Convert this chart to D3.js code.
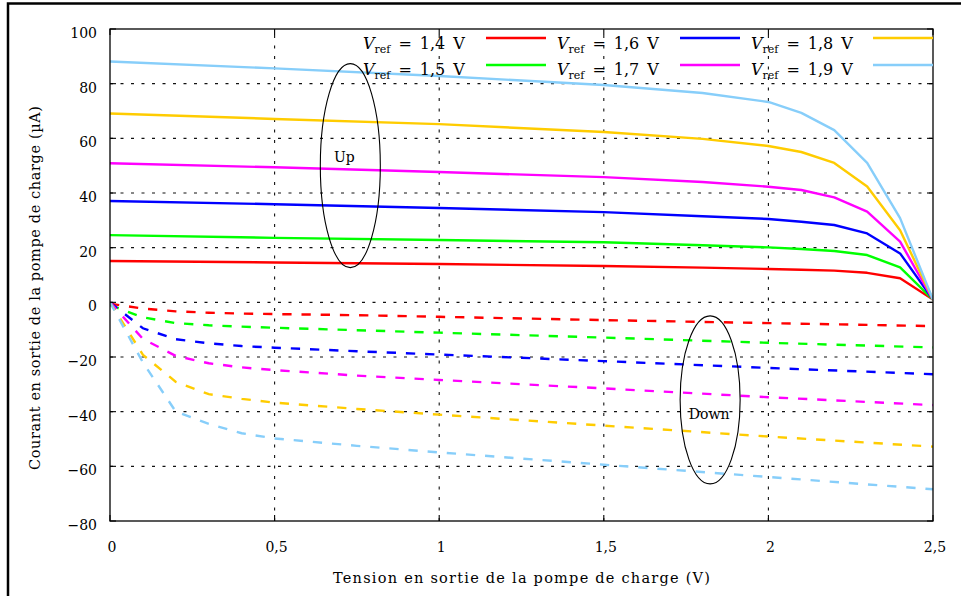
<!DOCTYPE html>
<html><head><meta charset="utf-8">
<script src="https://cdn.jsdelivr.net/npm/d3@7"></script>
<style>
body{margin:0;background:#fff}
svg{display:block}
text{font-family:"DejaVu Serif",serif;fill:#000}
</style>
</head><body>
<svg id="c" width="964" height="596"></svg>
<script>
// ---------- data ----------
const vrefLabels = ["1,4", "1,5", "1,6", "1,7", "1,8", "1,9"];
const seriesColors = ["#ff0000", "#00ff00", "#0000ff", "#ff00ff", "#ffcc00", "#87cefa"];

// "Up" current (solid lines)
const upX   = [0, 0.5, 1, 1.5, 1.8, 2, 2.1, 2.2, 2.3, 2.4, 2.5];
const up14  = [15.1, 14.6, 14.0, 13.3, 12.7, 12.2, 11.9, 11.6, 10.8, 8.8, 1.0];
const up15  = [24.6, 23.6, 22.8, 22.0, 20.9, 20.1, 19.5, 18.8, 17.3, 12.8, 1.0];
const up16  = [37.1, 35.9, 34.5, 33.0, 31.5, 30.5, 29.5, 28.3, 25.2, 17.9, 1.0];
const up17  = [50.9, 49.4, 47.7, 45.8, 44.0, 42.3, 41.1, 38.4, 33.2, 22.2, 1.0];
const up18  = [69.1, 67.1, 65.2, 62.3, 59.8, 57.2, 55.0, 51.0, 42.4, 26.4, 1.0];
const up19  = [88.1, 85.6, 82.8, 79.5, 76.6, 73.3, 69.3, 63.0, 51.0, 30.8, 1.0];

// "Down" current (dashed lines)
const downX  = [0, 0.1, 0.2, 0.3, 0.4, 0.5, 0.75, 1, 1.5, 2, 2.5];
const down14 = [-0.5, -2.3, -3.3, -3.8, -4.1, -4.3, -4.7, -5.3, -6.5, -7.6, -8.7];
const down15 = [-1.0, -5.5, -7.6, -8.4, -8.9, -9.3, -10.2, -11.1, -12.9, -14.8, -16.5];
const down16 = [0, -9.5, -13.5, -15.0, -16.0, -16.6, -17.9, -19.1, -21.5, -24.0, -26.3];
const down17 = [0, -13.4, -19.6, -22.3, -23.8, -24.8, -26.8, -28.4, -31.5, -34.7, -37.6];
const down18 = [0, -19.2, -29.1, -33.6, -35.3, -36.7, -39.0, -41.1, -45.1, -49.1, -52.8];
const down19 = [0, -22.0, -40.0, -44.5, -47.9, -49.8, -52.5, -54.9, -59.4, -63.9, -68.4];

const xTickValues = [0, 0.5, 1, 1.5, 2, 2.5];
const xTickLabels = ["0", "0,5", "1", "1,5", "2", "2,5"];
const yTickValues = [-80, -60, -40, -20, 0, 20, 40, 60, 80, 100];

const xTitle = "Tension en sortie de la pompe de charge (V)";
const yTitle = "Courant en sortie de la pompe de charge (µA)";

const annotLabels = ["Up", "Down"];
const annotCx = [0.73, 1.823];
const annotCy = [50, -35.7];

// ---------- build ----------
const upSeries = [up14, up15, up16, up17, up18, up19];
const downSeries = [down14, down15, down16, down17, down18, down19];

const svg = d3.select("#c");
const L = 110, R = 933, T = 29, B = 521;
const x = d3.scaleLinear().domain([0, 2.5]).range([L, R]);
const y = d3.scaleLinear().domain([-80, 100]).range([B, T]);

svg.append("rect").attr("width", 964).attr("height", 596).attr("fill", "#fff");

// outer frame (cropped on right/bottom)
svg.append("path").attr("d", "M8,600 V3.5 H961").attr("fill", "none")
  .attr("stroke", "#000").attr("stroke-width", 2.5);

// grid
const grid = svg.append("g").attr("stroke", "#111").attr("stroke-width", 1.1)
  .attr("stroke-dasharray", "3,7.5");
grid.selectAll("line.v").data(xTickValues.filter(v => v > 0 && v < 2.5)).join("line")
  .attr("x1", d => x(d)).attr("x2", d => x(d)).attr("y1", B).attr("y2", T);
grid.selectAll("line.h").data(yTickValues.filter(v => v > -80 && v < 100)).join("line")
  .attr("y1", d => y(d)).attr("y2", d => y(d)).attr("x1", L).attr("x2", R);

// clip
svg.append("clipPath").attr("id", "clip").append("rect")
  .attr("x", L).attr("y", T).attr("width", R - L).attr("height", B - T);

const line = d3.line().x(d => x(d[0])).y(d => y(d[1]));
const plot = svg.append("g").attr("clip-path", "url(#clip)");

downSeries.forEach((vals, i) => {
  plot.append("path").datum(downX.map((xv, j) => [xv, vals[j]]))
    .attr("d", line).attr("fill", "none").attr("stroke", seriesColors[i])
    .attr("stroke-width", 2.4).attr("stroke-dasharray", "9.3,9.9");
});
upSeries.forEach((vals, i) => {
  plot.append("path").datum(upX.map((xv, j) => [xv, vals[j]]))
    .attr("d", line).attr("fill", "none").attr("stroke", seriesColors[i])
    .attr("stroke-width", 2.4).attr("stroke-linejoin", "round");
});

// axis box
svg.append("rect").attr("x", L).attr("y", T).attr("width", R - L).attr("height", B - T)
  .attr("fill", "none").attr("stroke", "#000").attr("stroke-width", 1.3);

// ticks (inward, all sides)
const tk = svg.append("g").attr("stroke", "#000").attr("stroke-width", 1.1);
const tl = 6;
xTickValues.forEach(v => {
  tk.append("line").attr("x1", x(v)).attr("x2", x(v)).attr("y1", B).attr("y2", B - tl);
  tk.append("line").attr("x1", x(v)).attr("x2", x(v)).attr("y1", T).attr("y2", T + tl);
});
yTickValues.forEach(v => {
  tk.append("line").attr("y1", y(v)).attr("y2", y(v)).attr("x1", L).attr("x2", L + tl);
  tk.append("line").attr("y1", y(v)).attr("y2", y(v)).attr("x1", R).attr("x2", R - tl);
});

// tick labels
svg.append("g").selectAll("text").data(yTickValues).join("text")
  .attr("x", 97).attr("y", d => y(d) + 9).attr("text-anchor", "end")
  .attr("font-size", 14)
  .text(d => d < 0 ? "\u2212" + Math.abs(d) : String(d));
svg.append("g").selectAll("text").data(xTickValues).join("text")
  .attr("x", d => x(d) + 2).attr("y", 552).attr("text-anchor", "middle")
  .attr("font-size", 14)
  .text((d, i) => xTickLabels[i]);

// axis titles
svg.append("text").attr("x", (L + R) / 2).attr("y", 583).attr("text-anchor", "middle")
  .attr("font-size", 14.5).attr("textLength", 377).attr("lengthAdjust", "spacing")
  .text(xTitle);
svg.append("text").attr("transform", `translate(40,${(T + B) / 2 + 13}) rotate(-90)`)
  .attr("text-anchor", "middle").attr("font-size", 14.5)
  .attr("textLength", 364).attr("lengthAdjust", "spacing").text(yTitle);

// annotations
annotLabels.forEach((lab, i) => {
  svg.append("ellipse").attr("cx", x(annotCx[i])).attr("cy", y(annotCy[i]))
    .attr("rx", 30).attr("ry", i === 0 ? 102 : 84)
    .attr("fill", "none").attr("stroke", "#000").attr("stroke-width", 1.1);
  svg.append("text").attr("x", x(annotCx[i]) - (i === 0 ? 6 : 1))
    .attr("y", y(annotCy[i]) + (i === 0 ? -4 : 19))
    .attr("text-anchor", "middle").attr("font-size", 14).text(lab);
});

// legend
const legCols = [363, 557, 751];
const legLineX = [486, 680, 873];
const legRowText = [49, 75];
const legRowLine = [38, 65];
vrefLabels.forEach((lab, i) => {
  const col = Math.floor(i / 2), row = i % 2;
  const t = svg.append("text").attr("x", legCols[col]).attr("y", legRowText[row])
    .attr("font-size", 16).attr("xml:space", "preserve");
  t.append("tspan").attr("font-style", "italic").text("V");
  t.append("tspan").attr("font-size", 11).attr("dy", 4).text("ref");
  t.append("tspan").attr("dy", -4).text("\u2002=\u2002" + lab + "\u2002V");
  svg.append("line").attr("x1", legLineX[col]).attr("x2", legLineX[col] + 60)
    .attr("y1", legRowLine[row]).attr("y2", legRowLine[row])
    .attr("stroke", seriesColors[i]).attr("stroke-width", 2.6);
});
</script>
</body></html>
